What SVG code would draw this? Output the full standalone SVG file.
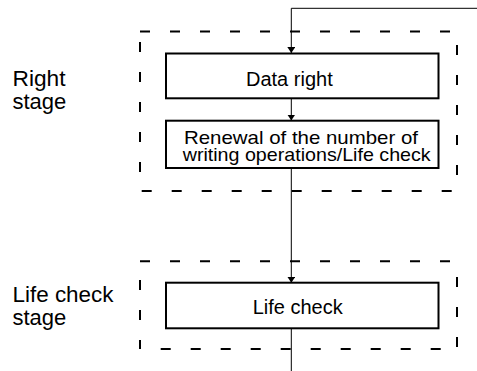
<svg xmlns="http://www.w3.org/2000/svg" width="477" height="371" viewBox="0 0 477 371">
<style>
  .dash { stroke: #000; stroke-width: 2; fill: none; stroke-dasharray: 10 20; }
  .box { fill: #fff; stroke: #000; stroke-width: 2; }
  .conn { stroke: #000; stroke-width: 1; fill: none; }
  .btxt { font-family: "Liberation Sans", Arial, Helvetica, sans-serif; font-size: 20px; fill: #000; }
  .btxt2 { font-family: "Liberation Sans", Arial, Helvetica, sans-serif; font-size: 18.5px; fill: #000; }
  .lbl { font-family: "Liberation Sans", Arial, Helvetica, sans-serif; font-size: 22px; fill: #000; }
</style>
<defs>
  <marker id="arr" viewBox="0 0 6 8" refX="6" refY="4" markerWidth="6" markerHeight="8" markerUnits="userSpaceOnUse" orient="auto">
    <path d="M0,0 L6,4 L0,8 Z" fill="#000"/>
  </marker>
</defs>
<g id="right-stage">
  <line class="dash" x1="140" y1="31.5" x2="457" y2="31.5"/>
  <line class="dash" x1="141.7" y1="191" x2="457" y2="191"/>
  <line class="dash" x1="140" y1="42" x2="140" y2="191"/>
  <line class="dash" x1="457" y1="45" x2="457" y2="191"/>
  <text class="lbl" x="12.5" y="86" textLength="53" lengthAdjust="spacingAndGlyphs">Right</text>
  <text class="lbl" x="12.5" y="109">stage</text>
</g>
<g id="life-check-stage">
  <line class="dash" x1="140" y1="261.3" x2="457" y2="261.3"/>
  <line class="dash" x1="160.7" y1="349" x2="457" y2="349"/>
  <line class="dash" x1="140" y1="280" x2="140" y2="349"/>
  <line class="dash" x1="457" y1="277" x2="457" y2="349"/>
  <text class="lbl" x="12.5" y="302" textLength="101" lengthAdjust="spacingAndGlyphs">Life check</text>
  <text class="lbl" x="12.5" y="325">stage</text>
</g>
<g id="connectors">
  <polyline class="conn" points="477,8.3 291.3,8.3 291.3,53" stroke-width="1.2" marker-end="url(#arr)"/>
  <line class="conn" x1="291.3" y1="98.3" x2="291.3" y2="120.5" marker-end="url(#arr)"/>
  <line class="conn" x1="291.3" y1="168" x2="291.3" y2="282.7" marker-end="url(#arr)"/>
  <line class="conn" x1="291.3" y1="328.3" x2="291.3" y2="371" stroke-width="1.6"/>
</g>
<g id="data-right">
  <rect class="box" x="166" y="53.5" width="272.5" height="44.8"/>
  <text class="btxt" x="246" y="86">Data right</text>
</g>
<g id="renewal">
  <rect class="box" x="166" y="120.7" width="272.5" height="47.3"/>
  <text class="btxt2" x="184" y="143.5" textLength="234" lengthAdjust="spacingAndGlyphs">Renewal of the number of</text>
  <text class="btxt2" x="182.7" y="161" textLength="248" lengthAdjust="spacingAndGlyphs">writing operations/Life check</text>
</g>
<g id="life-check">
  <rect class="box" x="166" y="282.7" width="272.5" height="45.6"/>
  <text class="btxt" x="252.7" y="314">Life check</text>
</g>
</svg>
